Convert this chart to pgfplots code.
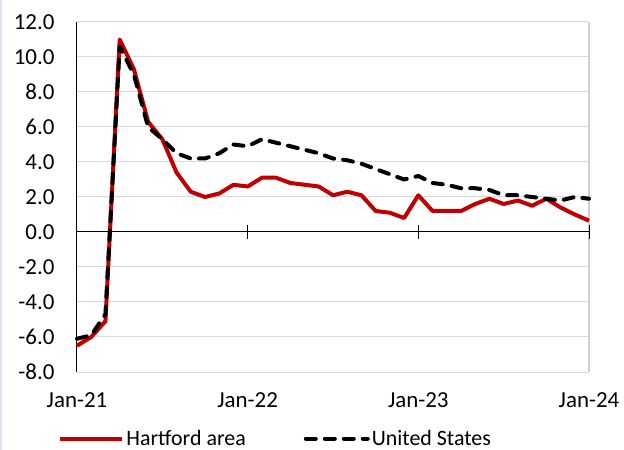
\documentclass[border=0pt]{standalone}
\usepackage{fontspec}
\setmainfont{Carlito}
\usepackage{pgfplots}
\pgfplotsset{compat=1.18}
\definecolor{hartred}{RGB}{192,0,0}
\definecolor{gridgray}{RGB}{217,217,217}
\definecolor{framegray}{RGB}{208,208,208}
\definecolor{frameblue}{RGB}{218,227,243}
\begin{document}
\begin{tikzpicture}
\path[use as bounding box] (0,0) rectangle (624bp,450bp);
\draw[frameblue, line width=2bp] (1bp,0) -- (1bp,450bp);
\begin{axis}[
  at={(77bp,78bp)}, anchor=south west,
  scale only axis, width=512bp, height=350bp,
  xmin=0, xmax=36, ymin=-8, ymax=12,
  xtick={0,12,24,36}, xticklabels={Jan-21,Jan-22,Jan-23,Jan-24},
  ytick={-8,-6,...,12},
  major tick length=0pt,
  axis line style={draw=none},
  ymajorgrids, grid style={gridgray, line width=1bp},
  /pgf/number format/assume math mode=true,
  /pgf/number format/.cd, fixed, fixed zerofill, precision=1, /pgfplots/.cd,
  tick label style={font=\fontsize{23}{27}\selectfont, text=black},
  xticklabel style={yshift=-17bp},
  yticklabel style={xshift=-19bp},
  legend style={at={(0.388,-0.19)}, anchor=center, draw=none, fill=none,
    legend columns=2, font=\fontsize{22}{26}\selectfont,
    /tikz/every even column/.append style={column sep=56bp}},
  legend cell align=left,
  legend image code/.code={\draw[#1] (0bp,0bp) -- (62bp,0bp);},
  clip=false,
]
\draw[framegray, line width=1.5bp] (rel axis cs:1,0) -- (rel axis cs:1,1);
\draw[black, line width=1bp] (axis cs:0,0) -- (axis cs:36,0);
\draw[black, line width=1bp] (axis cs:12,-0.4) -- (axis cs:12,0.4);
\draw[black, line width=1bp] (axis cs:24,-0.4) -- (axis cs:24,0.4);
\draw[black, line width=1bp] (axis cs:36,-0.4) -- (axis cs:36,0.4);
\draw[black, line width=1bp] (rel axis cs:0,0) -- (rel axis cs:0,1);
\addplot[hartred, line width=4bp, line join=round] coordinates {
(0,-6.5) (1,-6.0) (2,-5.1) (3,11.0) (4,9.3) (5,6.3) (6,5.3) (7,3.4) (8,2.3) (9,2.0)
(10,2.2) (11,2.7) (12,2.6) (13,3.1) (14,3.1) (15,2.8) (16,2.7) (17,2.6) (18,2.1) (19,2.3)
(20,2.1) (21,1.2) (22,1.1) (23,0.8) (24,2.1) (25,1.2) (26,1.2) (27,1.2) (28,1.6) (29,1.9)
(30,1.6) (31,1.8) (32,1.5) (33,1.9) (34,1.4) (35,1.0) (36,0.65)
};
\addlegendentry{Hartford area}
\addplot[black, line width=4bp, line cap=round, line join=round, dash pattern=on 10bp off 9bp] coordinates {
(0,-6.1) (1,-5.9) (2,-4.7) (3,10.6) (4,9.0) (5,6.0) (6,5.3) (7,4.5) (8,4.2) (9,4.2)
(10,4.5) (11,5.0) (12,4.9) (13,5.3) (14,5.1) (15,4.9) (16,4.7) (17,4.5) (18,4.2) (19,4.1)
(20,3.9) (21,3.6) (22,3.3) (23,3.0) (24,3.2) (25,2.8) (26,2.7) (27,2.5) (28,2.5) (29,2.4)
(30,2.1) (31,2.1) (32,2.0) (33,1.9) (34,1.8) (35,2.0) (36,1.9)
};
\addlegendentry{United States}
\end{axis}
\end{tikzpicture}
\end{document}
